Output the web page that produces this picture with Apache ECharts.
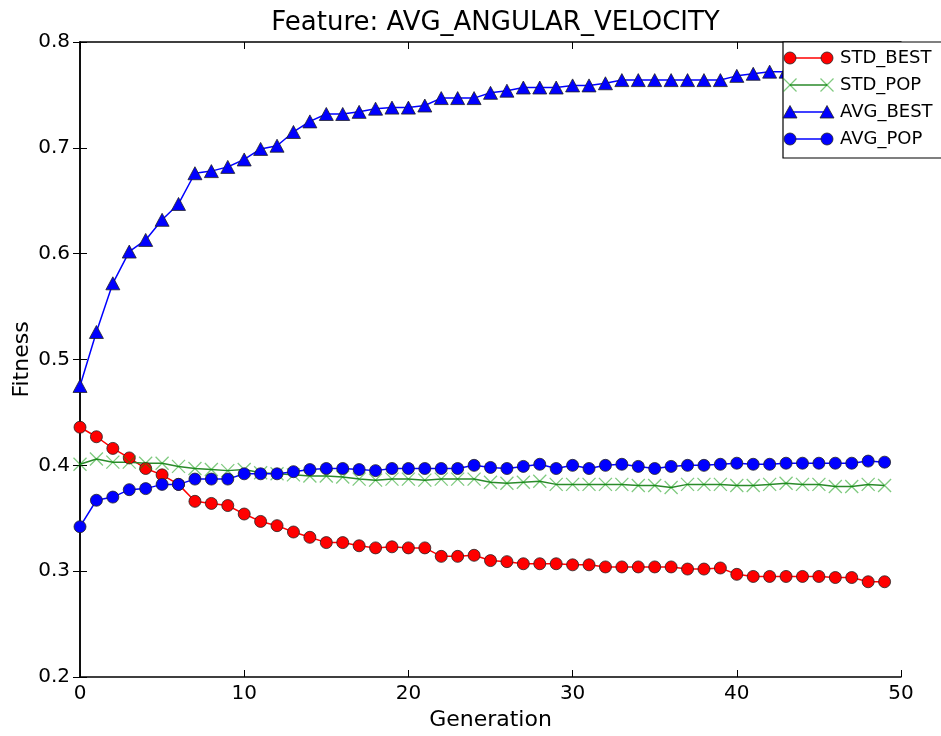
<!DOCTYPE html>
<html>
<head>
<meta charset="utf-8">
<script src="https://cdn.jsdelivr.net/npm/echarts@6/dist/echarts.min.js"></script>
<style>html,body{margin:0;padding:0;background:#fff}#c{width:941px;height:736px}</style>
</head>
<body>
<div id="c"></div>
<script>
const generations = [0,1,2,3,4,5,6,7,8,9,10,11,12,13,14,15,16,17,18,19,20,21,22,23,24,25,26,27,28,29,30,31,32,33,34,35,36,37,38,39,40,41,42,43,44,45,46,47,48,49];
const stdBest = [0.436,0.427,0.416,0.407,0.397,0.391,0.382,0.366,0.364,0.362,0.354,0.347,0.343,0.337,0.332,0.327,0.327,0.324,0.322,0.323,0.322,0.322,0.314,0.314,0.315,0.310,0.309,0.307,0.307,0.307,0.306,0.306,0.304,0.304,0.304,0.304,0.304,0.302,0.302,0.303,0.297,0.295,0.295,0.295,0.295,0.295,0.294,0.294,0.290,0.290];
const stdPop = [0.401,0.406,0.403,0.403,0.402,0.402,0.399,0.397,0.396,0.395,0.396,0.393,0.392,0.391,0.390,0.390,0.389,0.387,0.386,0.387,0.387,0.386,0.387,0.387,0.387,0.384,0.383,0.384,0.385,0.382,0.382,0.382,0.382,0.382,0.381,0.381,0.379,0.382,0.382,0.382,0.381,0.381,0.382,0.383,0.382,0.382,0.380,0.380,0.382,0.381];
const avgBest = [0.475,0.526,0.572,0.602,0.613,0.632,0.647,0.676,0.678,0.682,0.689,0.699,0.702,0.715,0.725,0.732,0.732,0.734,0.737,0.738,0.738,0.740,0.747,0.747,0.747,0.752,0.754,0.757,0.757,0.757,0.759,0.759,0.761,0.764,0.764,0.764,0.764,0.764,0.764,0.764,0.768,0.770,0.772,0.772,0.773,0.773,0.774,0.774,0.775,0.775];
const avgPop = [0.342,0.367,0.370,0.377,0.378,0.382,0.382,0.387,0.387,0.387,0.392,0.392,0.392,0.394,0.396,0.397,0.397,0.396,0.395,0.397,0.397,0.397,0.397,0.397,0.400,0.398,0.397,0.399,0.401,0.397,0.400,0.397,0.400,0.401,0.399,0.397,0.399,0.400,0.400,0.401,0.402,0.401,0.401,0.402,0.402,0.402,0.402,0.402,0.404,0.403];
const seriesNames = ['STD_BEST','STD_POP','AVG_BEST','AVG_POP'];
const xTicks = [0,10,20,30,40,50];
const yTicks = [0.2,0.3,0.4,0.5,0.6,0.7,0.8];

const FONT = 'DejaVu Sans';
const pairs = arr => generations.map((g,i)=>[g,arr[i]]);
const crossPath = 'path://M0,0L10,10M10,0L0,10';

const chart = echarts.init(document.getElementById('c'), null, {renderer:'canvas'});

const axisLineStyle = {show:true, lineStyle:{color:'#000', width:1.5}};
const tickStyle = {show:true, inside:true, length:7, lineStyle:{color:'#000', width:1}};

function legendGraphic(){
  const els = [];
  const Z = 100;
  const bx = 783, by = 42, bw = 170, bh = 116;
  els.push({type:'rect', z:Z, shape:{x:bx, y:by, width:bw, height:bh}, style:{fill:'#fff', stroke:'#000', lineWidth:1.2}});
  const rows = [58, 85, 112, 139];
  const colors = ['#ff0000','#008000','#0000ff','#0000ff'];
  const x1 = 790, x2 = 827;
  rows.forEach((y,i)=>{
    els.push({type:'line', z:Z+1, shape:{x1:x1, y1:y, x2:x2, y2:y}, style:{stroke: i===1 ? '#2a8a2a' : colors[i], lineWidth:1.5}});
    [x1,x2].forEach(cx=>{
      if(i===0 || i===3){
        els.push({type:'circle', z:Z+2, shape:{cx:cx, cy:y, r:6}, style:{fill:colors[i], stroke:'#222', lineWidth:0.8}});
      } else if(i===2){
        els.push({type:'polygon', z:Z+2, shape:{points:[[cx,y-6.5],[cx-7,y+6],[cx+7,y+6]]}, style:{fill:'#0000ff', stroke:'#222', lineWidth:0.8}});
      } else {
        els.push({type:'line', z:Z+2, shape:{x1:cx-6.5, y1:y-6.5, x2:cx+6.5, y2:y+6.5}, style:{stroke:'rgba(0,150,0,0.5)', lineWidth:1.3}});
        els.push({type:'line', z:Z+2, shape:{x1:cx-6.5, y1:y+6.5, x2:cx+6.5, y2:y-6.5}, style:{stroke:'rgba(0,150,0,0.5)', lineWidth:1.3}});
      }
    });
    els.push({type:'text', z:Z+2, style:{x:840, y:y, text:seriesNames[i], fill:'#000', font:'18px "'+FONT+'"', textVerticalAlign:'middle', textAlign:'left'}});
  });
  return els;
}

const option = {
  backgroundColor:'#fff',
  animation:false,
  title:{
    text:'Feature: AVG_ANGULAR_VELOCITY',
    left:490.5, top:5, textAlign:'center',
    textStyle:{fontFamily:FONT, fontSize:26, fontWeight:'normal', color:'#000'}
  },
  grid:{left:80, right:40, top:42, bottom:59, containLabel:false, outerBoundsMode:'none'},
  xAxis:[
    {type:'value', min:0, max:50, interval:10, position:'bottom',
     name:'Generation', nameLocation:'middle', nameGap:32, nameMoveOverlap:false,
     nameTextStyle:{fontFamily:FONT, fontSize:22, color:'#000'},
     axisLine:axisLineStyle, axisTick:tickStyle,
     axisLabel:{fontFamily:FONT, fontSize:20, color:'#000', margin:7, showMinLabel:true, showMaxLabel:true},
     splitLine:{show:false}},
    {type:'value', min:0, max:50, interval:10, position:'top',
     axisLine:axisLineStyle, axisTick:tickStyle, axisLabel:{show:false}, splitLine:{show:false}}
  ],
  yAxis:[
    {type:'value', min:0.2, max:0.8, interval:0.1, position:'left',
     name:'Fitness', nameLocation:'middle', nameGap:47, nameRotate:90, nameMoveOverlap:false,
     nameTextStyle:{fontFamily:FONT, fontSize:22, color:'#000'},
     axisLine:axisLineStyle, axisTick:tickStyle,
     axisLabel:{fontFamily:FONT, fontSize:20, color:'#000', margin:10, formatter:v=>v.toFixed(1)},
     splitLine:{show:false}},
    {type:'value', min:0.2, max:0.8, interval:0.1, position:'right',
     axisLine:axisLineStyle, axisTick:tickStyle, axisLabel:{show:false}, splitLine:{show:false}}
  ],
  series:[
    {name:seriesNames[0], type:'line', data:pairs(stdBest), symbol:'circle', symbolSize:12,
     lineStyle:{color:'#ff0000', width:1.5}, itemStyle:{color:'#ff0000', borderColor:'#222', borderWidth:0.8}},
    {name:seriesNames[1], type:'line', data:pairs(stdPop), symbol:crossPath, symbolSize:13,
     lineStyle:{color:'#2a8a2a', width:1.5}, itemStyle:{color:'rgba(0,0,0,0)', borderColor:'rgba(0,150,0,0.5)', borderWidth:1.3}},
    {name:seriesNames[2], type:'line', data:pairs(avgBest), symbol:'triangle', symbolSize:[14,13],
     lineStyle:{color:'#0000ff', width:1.5}, itemStyle:{color:'#0000ff', borderColor:'#222', borderWidth:0.8}},
    {name:seriesNames[3], type:'line', data:pairs(avgPop), symbol:'circle', symbolSize:12,
     lineStyle:{color:'#0000ff', width:1.5}, itemStyle:{color:'#0000ff', borderColor:'#222', borderWidth:0.8}}
  ],
  graphic:legendGraphic()
};
chart.setOption(option);
</script>
</body>
</html>
